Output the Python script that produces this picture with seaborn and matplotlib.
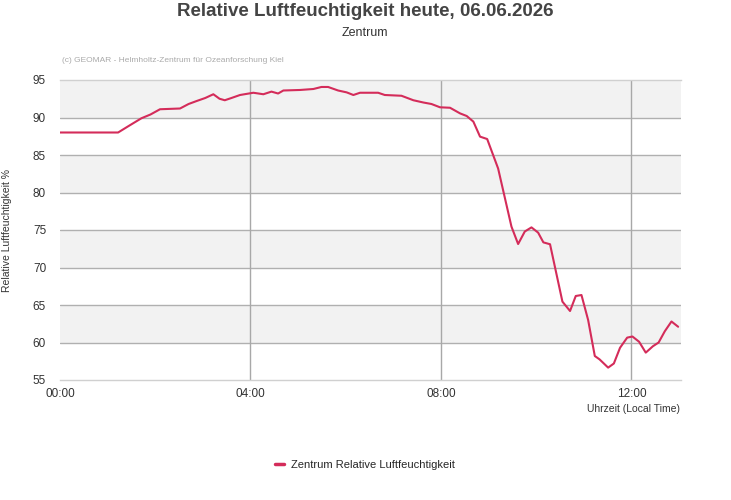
import matplotlib
matplotlib.use("Agg")
import matplotlib.pyplot as plt
import seaborn as sns
import pandas as pd

# time in decimal hours, relative humidity in %
hours = [0.0, 1.22, 1.45, 1.71, 1.9, 2.1, 2.52, 2.7, 2.87, 3.05, 3.22, 3.35, 3.46, 3.6,
         3.78, 4.06, 4.27, 4.44, 4.58, 4.69, 5.04, 5.32, 5.49, 5.63, 5.84, 6.02, 6.16,
         6.3, 6.68, 6.82, 7.17, 7.42, 7.63, 7.8, 7.98, 8.19, 8.4, 8.54, 8.68, 8.82, 8.97,
         9.2, 9.48, 9.62, 9.76, 9.9, 10.04, 10.15, 10.29, 10.55, 10.71, 10.83, 10.95,
         11.09, 11.23, 11.33, 11.51, 11.63, 11.76, 11.91, 12.02, 12.16, 12.3, 12.45,
         12.57, 12.7, 12.84, 12.98]
humidity = [88.0, 88.0, 88.9, 89.9, 90.4, 91.1, 91.2, 91.8, 92.2, 92.6, 93.1, 92.5, 92.3, 92.6,
            93.0, 93.3, 93.1, 93.45, 93.2, 93.6, 93.67, 93.8, 94.07, 94.07, 93.6, 93.35, 93.0,
            93.3, 93.3, 93.0, 92.9, 92.3, 92.0, 91.8, 91.36, 91.3, 90.55, 90.2, 89.45, 87.45,
            87.13, 83.2, 75.45, 73.13, 74.8, 75.35, 74.65, 73.35, 73.1, 65.45, 64.2, 66.2,
            66.33, 63.0, 58.2, 57.75, 56.65, 57.2, 59.3, 60.65, 60.8, 60.1, 58.65, 59.5,
            60.0, 61.5, 62.8, 62.1]
x_ticks = [0, 4, 8, 12]
x_tick_labels = ["00:00", "04:00", "08:00", "12:00"]
y_ticks = [55, 60, 65, 70, 75, 80, 85, 90, 95]
series_name = "Zentrum Relative Luftfeuchtigkeit"

df = pd.DataFrame({"Stunde": hours, "Wert": humidity, "Serie": series_name})

sns.set_style("white")
plt.rcParams["font.family"] = ["Liberation Sans", "DejaVu Sans"]

fig = plt.figure(figsize=(7.31, 5.00), dpi=100)
ax = fig.add_axes([60 / 731, 120 / 500, 621 / 731, 300 / 500])

# alternating bands
for lo in [60, 70, 80, 90]:
    ax.axhspan(lo, lo + 5, color="#f2f2f2", zorder=0, lw=0)
for y in y_ticks[1:-1]:
    ax.axhline(y, color="#b0b0b0", lw=1, zorder=1)
for x in x_ticks[1:]:
    ax.axvline(x, color="#a8a8a8", lw=1, zorder=1)

sns.lineplot(data=df, x="Stunde", y="Wert", hue="Serie", palette=["#d42c5a"],
             linewidth=1.5, ax=ax, zorder=3, legend=True)

ax.set_xlim(0, 13.04)
ax.set_ylim(55, 95)
ax.set_xticks(x_ticks)
ax.set_xticklabels(x_tick_labels)
ax.set_yticks(y_ticks)
ax.tick_params(axis="both", length=0, labelsize=8.5, colors="#333333", pad=6)
ax.tick_params(axis="y", pad=10)
for s in ["left", "right"]:
    ax.spines[s].set_visible(False)
for s in ["top", "bottom"]:
    ax.spines[s].set_color("#d0d0d0")
    ax.spines[s].set_linewidth(1)
ax.set_xlabel("")
ax.set_ylabel("")

fig.text(7 / 731, 1 - 230 / 500, "Relative Luftfeuchtigkeit %", rotation=90,
         ha="center", va="center", fontsize=7.5, color="#333333")
fig.text(680 / 731, 1 - 409 / 500, "Uhrzeit (Local Time)", ha="right", va="center",
         fontsize=7.5, color="#333333")
fig.text(365 / 731, 1 - 12 / 500, "Relative Luftfeuchtigkeit heute, 06.06.2026",
         ha="center", va="center", fontsize=13.5, fontweight="bold", color="#444444")
fig.text(365 / 731, 1 - 33 / 500, "Zentrum", ha="center", va="center",
         fontsize=9, color="#333333")
fig.text(62 / 731, 1 - 60 / 500, "(c) GEOMAR - Helmholtz-Zentrum für Ozeanforschung Kiel",
         ha="left", va="center", fontsize=6, color="#aaaaaa")

leg = ax.legend(loc="center", bbox_to_anchor=(365 / 731, 1 - 465 / 500),
                bbox_transform=fig.transFigure, frameon=False, fontsize=8,
                handlelength=0.8, handletextpad=0.6)
for h in leg.get_lines():
    h.set_linewidth(2.5)

fig.savefig("out.png", dpi=100)
